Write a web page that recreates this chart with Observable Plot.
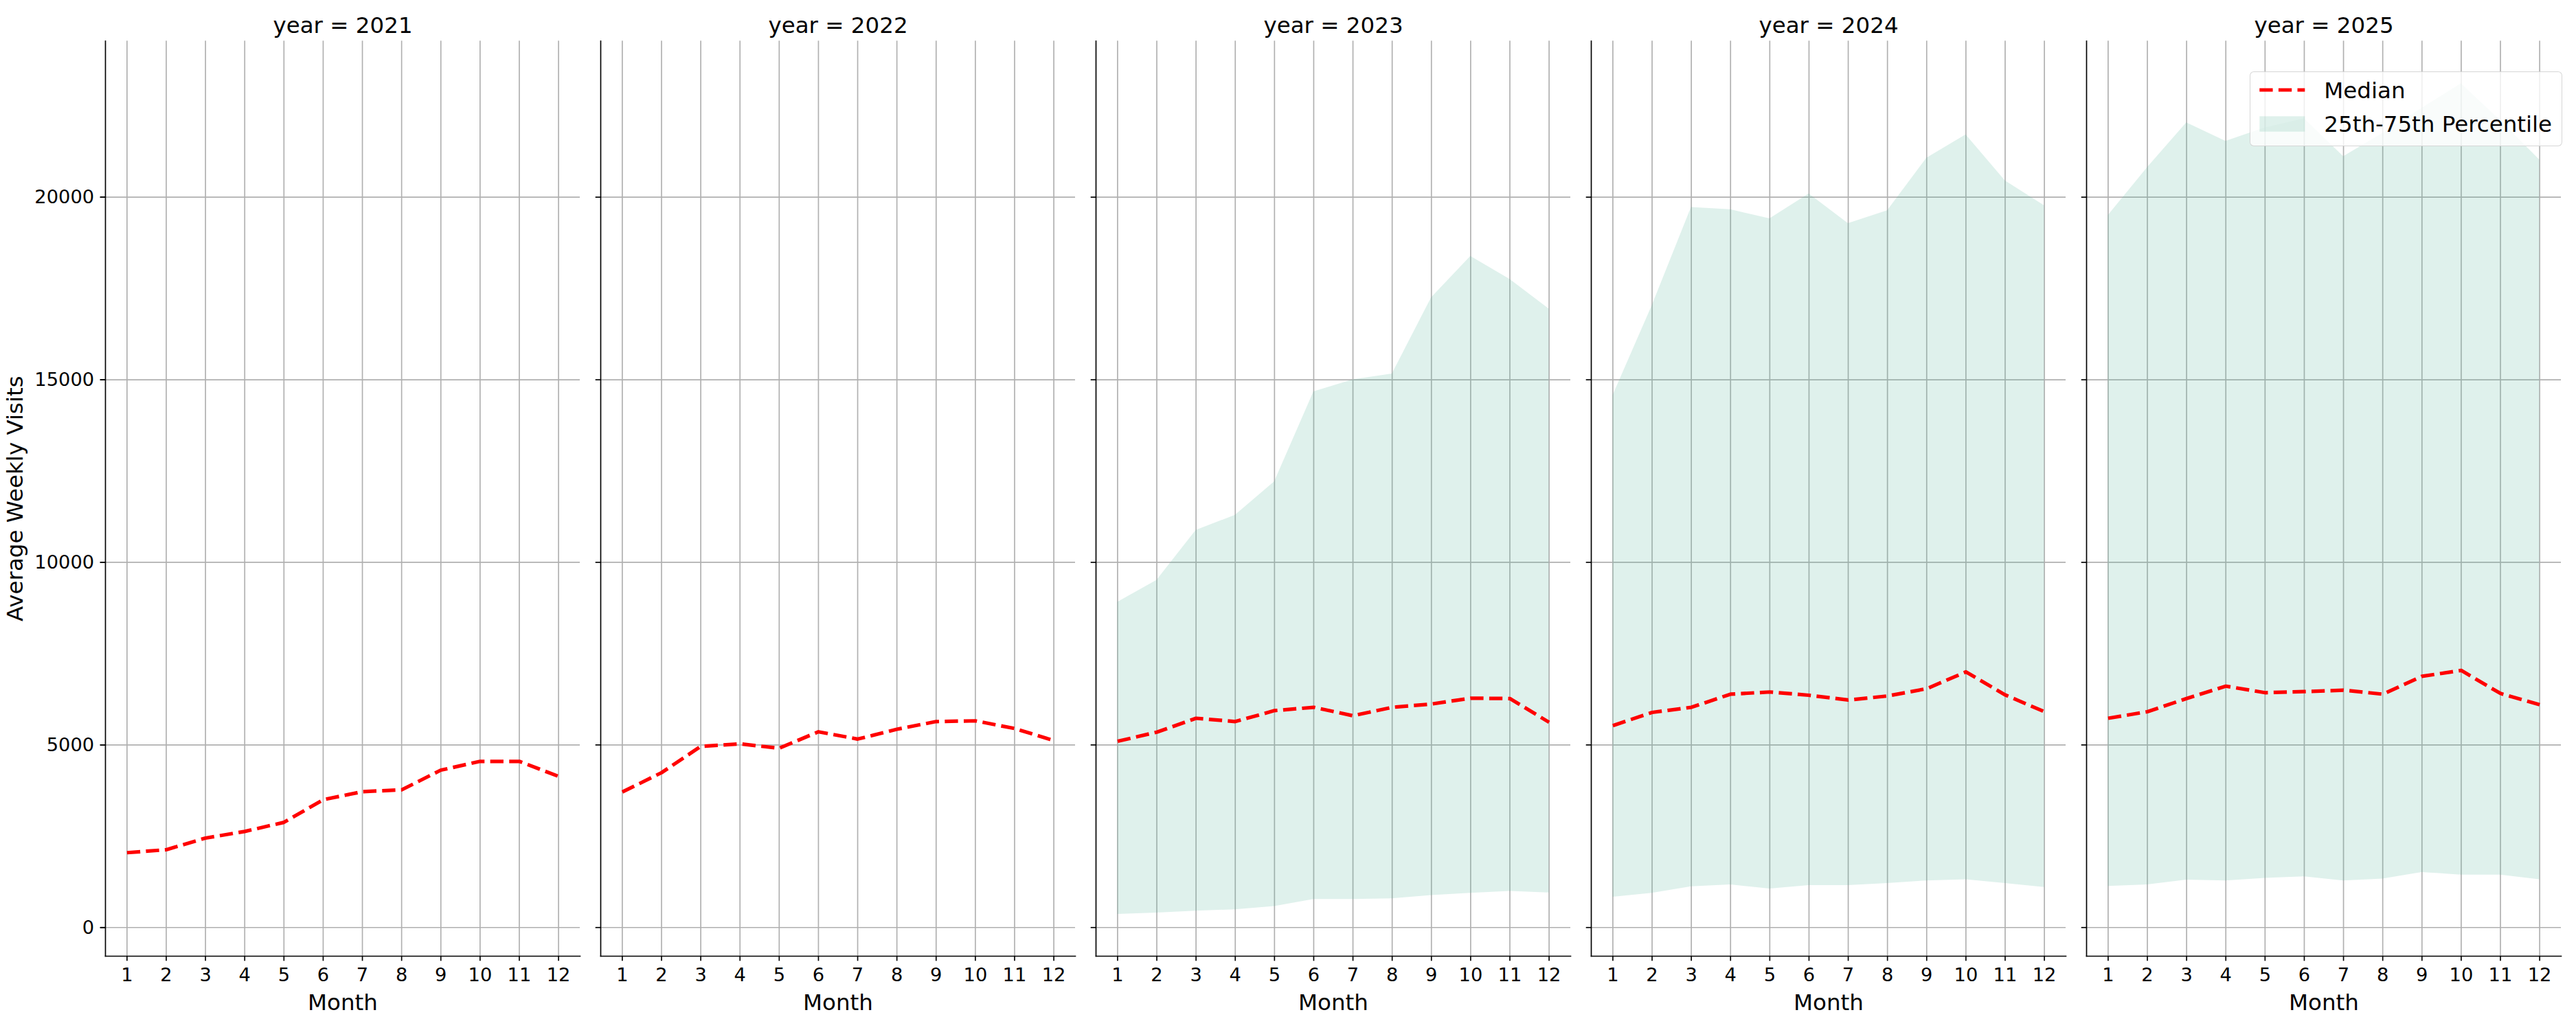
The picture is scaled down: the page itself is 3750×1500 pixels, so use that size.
<!DOCTYPE html>
<html>
<head>
<meta charset="utf-8">
<script src="https://cdn.jsdelivr.net/npm/d3@7"></script>
<script src="https://cdn.jsdelivr.net/npm/@observablehq/plot@0.6"></script>
<style>
  html, body { margin: 0; padding: 0; background: #fff; }
  #wrap { position: relative; width: 3750px; height: 1500px; font-family: "DejaVu Sans", sans-serif; }
  #legendBox { position: absolute; left: 3275px; top: 104px; width: 455px; height: 109px; box-sizing: border-box;
    border: 1.7px solid rgba(204,204,204,0.8); border-radius: 6px; background: rgba(255,255,255,0.8); }
  #legendSvg { position: absolute; left: 3275px; top: 104px; overflow: visible; }
</style>
</head>
<body>
<div id="wrap"></div>
<script>
// ---- data ----
const years = [2021, 2022, 2023, 2024, 2025];
const months = [1, 2, 3, 4, 5, 6, 7, 8, 9, 10, 11, 12];
const yTicks = [0, 5000, 10000, 15000, 20000];

const median2021 = [2050, 2130, 2450, 2630, 2880, 3500, 3720, 3770, 4310, 4550, 4550, 4140];
const median2022 = [3710, 4240, 4960, 5030, 4910, 5360, 5160, 5430, 5640, 5660, 5450, 5120];
const median2023 = [5100, 5350, 5730, 5640, 5940, 6030, 5800, 6030, 6120, 6280, 6270, 5620];
const median2024 = [5530, 5890, 6030, 6390, 6450, 6360, 6230, 6340, 6540, 7000, 6370, 5910];
const median2025 = [5730, 5910, 6270, 6610, 6430, 6460, 6500, 6390, 6880, 7040, 6410, 6100];

const p25_2023 = [360, 400, 450, 490, 580, 770, 770, 790, 880, 940, 990, 950];
const p75_2023 = [8910, 9510, 10880, 11290, 12210, 14670, 15000, 15160, 17250, 18380, 17750, 16940];
const p25_2024 = [830, 940, 1120, 1170, 1060, 1150, 1150, 1210, 1280, 1310, 1210, 1100];
const p75_2024 = [14570, 17030, 19720, 19660, 19410, 20090, 19280, 19630, 21070, 21710, 20450, 19770];
const p25_2025 = [1130, 1170, 1300, 1280, 1350, 1390, 1280, 1330, 1510, 1440, 1440, 1310];
const p75_2025 = [19500, 20810, 22040, 21530, 21900, 22150, 21110, 21750, 22440, 23110, 22100, 21020];

// ---- tables built from the arrays ----
const medianByYear = {2021: median2021, 2022: median2022, 2023: median2023, 2024: median2024, 2025: median2025};
const bandByYear = {2023: [p25_2023, p75_2023], 2024: [p25_2024, p75_2024], 2025: [p25_2025, p75_2025]};

const medianRows = years.flatMap(yr => months.map((m, i) => ({year: yr, month: m, value: medianByYear[yr][i]})));
const bandRows = Object.keys(bandByYear).flatMap(k => months.map((m, i) => ({
  year: +k, month: m, lo: bandByYear[k][0][i], hi: bandByYear[k][1][i]
})));

const bandColor = "rgb(95,185,160)";
const gridColor = "#b0b0b0";

const chart = Plot.plot({
  width: 3750,
  height: 1500,
  marginLeft: 151,
  marginRight: 20,
  marginTop: 59.3,
  marginBottom: 108,
  style: {fontFamily: '"DejaVu Sans", sans-serif', background: "transparent", color: "black", overflow: "visible"},
  x: {domain: [0.45, 12.55]},
  y: {domain: [-785, 24275]},
  fx: {domain: years, paddingInner: 0.0416, paddingOuter: 0, label: null},
  marks: [
    Plot.gridX(months, {stroke: gridColor, strokeOpacity: 1, strokeWidth: 1.67}),
    Plot.gridY(yTicks, {stroke: gridColor, strokeOpacity: 1, strokeWidth: 1.67}),
    Plot.areaY(bandRows, {fx: "year", x: "month", y1: "lo", y2: "hi", fill: bandColor, fillOpacity: 0.2}),
    Plot.lineY(medianRows, {fx: "year", x: "month", y: "value", stroke: "red", strokeWidth: 5.2,
      strokeDasharray: "19.3,8.3", strokeLinecap: "butt", strokeLinejoin: "round"}),
    Plot.frame({anchor: "left", stroke: "black", strokeWidth: 1.67}),
    Plot.frame({anchor: "bottom", stroke: "black", strokeWidth: 1.67}),
    Plot.axisY(yTicks, {tickSize: 7.3, tickPadding: 9, fontSize: 27.3, strokeWidth: 1.67, tickFormat: d => String(d),
      label: "Average Weekly Visits", labelAnchor: "center", labelOffset: 144, labelArrow: "none"}),
    Plot.axisY(yTicks, {tickSize: 7.3, strokeWidth: 1.67, tickFormat: () => "", facetAnchor: null, label: null}),
    Plot.axisX(months, {tickSize: 7.3, tickPadding: 10, fontSize: 27.3, strokeWidth: 1.67, tickFormat: d => String(d), label: null}),
    Plot.axisFx({anchor: "top", tickSize: 0, tickPadding: 11.5, fontSize: 32.5, tickFormat: d => `year = ${d}`, label: null}),
    Plot.text(years, {fx: d => d, text: () => "Month", frameAnchor: "bottom", lineAnchor: "bottom", dy: 78, fontSize: 32.5, fill: "black"})
  ]
});

// y-axis label font size
chart.querySelectorAll("text").forEach(t => {
  if (t.textContent === "Average Weekly Visits") t.setAttribute("font-size", "32.5");
});

const wrap = document.getElementById("wrap");
wrap.appendChild(chart);

// legend (inside the last panel, matplotlib-style)
const box = document.createElement("div");
box.id = "legendBox";
wrap.appendChild(box);
const ns = "http://www.w3.org/2000/svg";
const lg = document.createElementNS(ns, "svg");
lg.id = "legendSvg";
lg.setAttribute("width", "455");
lg.setAttribute("height", "109");
lg.innerHTML = `
  <line x1="14.3" x2="80.3" y1="27" y2="27" stroke="red" stroke-width="5.2" stroke-dasharray="19.3,8.3"/>
  <rect x="14.3" y="65.3" width="66" height="22.4" fill="${bandColor}" fill-opacity="0.2"/>
  <text x="108.3" y="39.3" font-family="DejaVu Sans, sans-serif" font-size="32.5" fill="black">Median</text>
  <text x="108.3" y="87.7" font-family="DejaVu Sans, sans-serif" font-size="32.5" fill="black">25th-75th Percentile</text>`;
wrap.appendChild(lg);
</script>
</body>
</html>
